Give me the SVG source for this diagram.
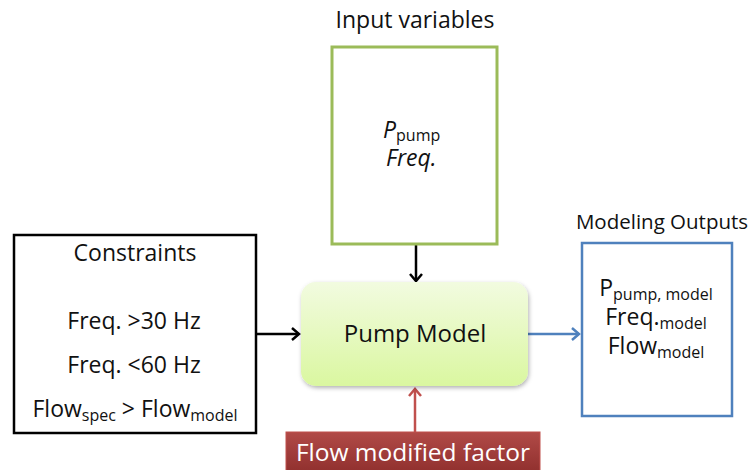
<svg xmlns="http://www.w3.org/2000/svg" width="755" height="470" viewBox="0 0 755 470">
<defs>
<linearGradient id="gPump" x1="0" y1="0" x2="0" y2="1"><stop offset="0" stop-color="#f2fbe0"/><stop offset="1" stop-color="#daf7a0"/></linearGradient>
<linearGradient id="gRed" x1="0" y1="0" x2="0" y2="1"><stop offset="0" stop-color="#b14a47"/><stop offset="1" stop-color="#8f2f2d"/></linearGradient>
<filter id="sh" x="-10%" y="-10%" width="130%" height="130%"><feDropShadow dx="1" dy="2" stdDeviation="2" flood-opacity="0.3"/></filter>
</defs>
<style>
text{font-family:"Open Sans","Noto Sans","Liberation Sans",sans-serif;fill:#111}
.t{font-size:23px}
.sub{font-size:16px}
.conn{fill:none;stroke-width:2.5}
</style>
<g id="connectors">
<path class="conn" d="M416,244 L416,280" stroke="#000"/><path d="M410,274 L416,281 L422,274" fill="none" stroke="#000" stroke-width="2.5"/>
<path class="conn" d="M256,334 L299,334" stroke="#000"/><path d="M292,328 L299,334 L292,340" fill="none" stroke="#000" stroke-width="2.5"/>
<path class="conn" d="M528,334 L579,334" stroke="#4f81bd"/><path d="M572,328 L579,334 L572,340" fill="none" stroke="#4f81bd" stroke-width="2.5"/>
<path class="conn" d="M415,432 L415,390" stroke="#c0504d"/><path d="M409,396 L415,389 L421,396" fill="none" stroke="#c0504d" stroke-width="2.5"/>
</g>
<g id="input">
<text x="415" y="28" class="t" text-anchor="middle">Input variables</text>
<rect x="332" y="47" width="165" height="197" fill="#fff" stroke="#9bbb59" stroke-width="3"/>
<text x="383" y="138" class="t" font-style="italic">P<tspan class="sub" font-style="normal" dy="3">pump</tspan></text>
<text x="386" y="166" class="t" font-style="italic">Freq.</text>
</g>
<g id="constraints">
<rect x="14" y="235" width="242" height="198" fill="#fff" stroke="#000" stroke-width="2.5"/>
<text x="135" y="261" class="t" text-anchor="middle">Constraints</text>
<text x="134" y="329" class="t" text-anchor="middle">Freq. &gt;30 Hz</text>
<text x="134" y="373" class="t" text-anchor="middle">Freq. &lt;60 Hz</text>
<text x="135" y="417" class="t" text-anchor="middle">Flow<tspan class="sub" dy="4">spec</tspan><tspan dy="-4"> &gt; Flow</tspan><tspan class="sub" dy="4">model</tspan></text>
</g>
<g id="pump">
<rect x="301" y="282" width="227" height="104" rx="15" fill="url(#gPump)" filter="url(#sh)"/>
<text x="415" y="342" font-size="24" text-anchor="middle">Pump Model</text>
</g>
<g id="outputs">
<text x="662" y="229" font-size="20.5" text-anchor="middle">Modeling Outputs</text>
<rect x="582" y="243" width="150" height="173" fill="#fff" stroke="#4f81bd" stroke-width="2.5"/>
<text x="656" y="296" class="t" text-anchor="middle">P<tspan class="sub" dy="4">pump, model</tspan></text>
<text x="656" y="325" class="t" text-anchor="middle">Freq.<tspan class="sub" dy="4">model</tspan></text>
<text x="656" y="354" class="t" text-anchor="middle">Flow<tspan class="sub" dy="4">model</tspan></text>
</g>
<g id="factor">
<rect x="286" y="432" width="254" height="42" fill="url(#gRed)" stroke="#c0504d" stroke-width="1"/>
<text x="413" y="461" font-size="24.5" text-anchor="middle" style="fill:#fff">Flow modified factor</text>
</g>
</svg>
